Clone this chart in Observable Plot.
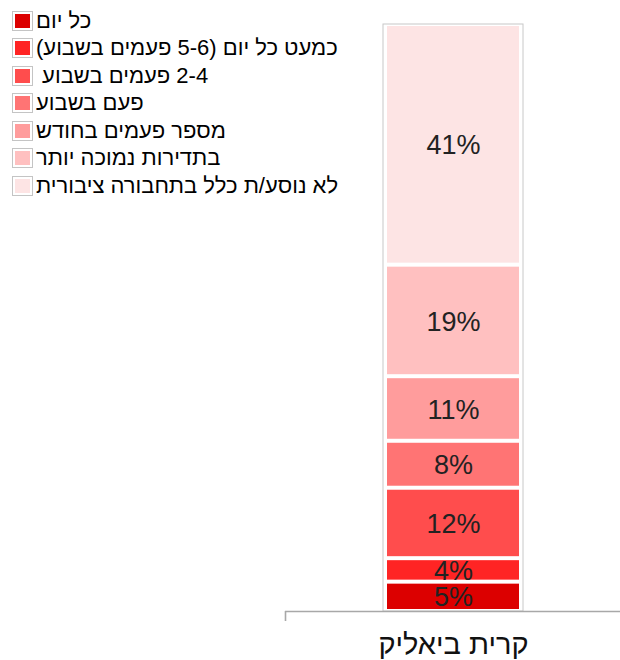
<!DOCTYPE html>
<html>
<head>
<meta charset="utf-8">
<script src="https://cdn.jsdelivr.net/npm/d3@7"></script>
<script src="https://cdn.jsdelivr.net/npm/@observablehq/plot@0.6"></script>
<style>
  body { margin: 0; background: #fff; }
  #wrap { position: relative; width: 620px; height: 660px; font-family: "Liberation Sans", Arial, sans-serif; }
  #legend { position: absolute; left: 12px; top: 7px; }
  .row { display: flex; align-items: center; height: 27.5px; direction: ltr; }
  .sw { width: 15px; height: 14px; border: 1px solid #c4c4c4; padding: 2px; background: #fff; box-sizing: content-box; flex: none; }
  .sw > div { width: 100%; height: 100%; }
  .lab { margin-left: 3px; font-size: 22px; color: #000; white-space: pre; }
</style>
</head>
<body>
<div id="wrap"><div id="legend"></div></div>
<script>
const categories = ["קרית ביאליק"];
const series = [
  "כל יום",
  "כמעט כל יום (5-6 פעמים בשבוע)",
  " 2-4 פעמים בשבוע ",
  "פעם בשבוע",
  "מספר פעמים בחודש",
  "בתדירות נמוכה יותר",
  "לא נוסע/ת כלל בתחבורה ציבורית"
];
const values = [5, 4, 12, 8, 11, 19, 41];
const colors = ["#dc0000", "#ff2424", "#ff4d4d", "#ff7474", "#ff9c9c", "#ffc0c0", "#fde4e4"];

const data = series.map((s, i) => ({category: categories[0], series: s, value: values[i]}));
const totals = categories.map(c => ({category: c, total: d3.sum(data.filter(d => d.category === c), d => d.value)}));

const font = "'Liberation Sans', Arial, sans-serif";

const chart = Plot.plot({
  width: 620,
  height: 660,
  marginLeft: 285,
  marginRight: 0,
  marginTop: 24,
  marginBottom: 49,
  style: {fontFamily: font, background: "transparent"},
  x: {domain: categories, padding: 0.41, axis: null},
  y: {domain: [0, 100], axis: null},
  color: {domain: series, range: colors},
  marks: [
    Plot.barY(totals, {x: "category", y: "total", fill: "white", stroke: "#c8c8c8", strokeWidth: 1}),
    Plot.barY(data, {x: "category", y: "value", fill: "series", insetLeft: 4, insetRight: 4, insetTop: 2, insetBottom: 2}),
    Plot.ruleY([0], {stroke: "#a8a8a8", strokeWidth: 1.6}),
    (index, scales, values, dims) => {
      const y0 = dims.height - dims.marginBottom;
      const l = document.createElementNS("http://www.w3.org/2000/svg", "line");
      l.setAttribute("x1", dims.marginLeft + 0.5);
      l.setAttribute("x2", dims.marginLeft + 0.5);
      l.setAttribute("y1", y0);
      l.setAttribute("y2", y0 + 10);
      l.setAttribute("stroke", "#a8a8a8");
      l.setAttribute("stroke-width", 1.6);
      return l;
    },
    Plot.text(data, Plot.stackY({x: "category", y: "value", z: "series", text: d => d.value + "%", fontSize: 27, fill: "#222", dy: 1})),
    Plot.text(categories, {x: d => d, y: 0, dy: 33, fontSize: 29, fill: "#111"})
  ]
});

const wrap = document.getElementById("wrap");
wrap.insertBefore(chart, wrap.firstChild);

const legend = document.getElementById("legend");
series.forEach((s, i) => {
  const row = document.createElement("div");
  row.className = "row";
  const sw = document.createElement("div");
  sw.className = "sw";
  const inner = document.createElement("div");
  inner.style.background = colors[i];
  sw.appendChild(inner);
  const lab = document.createElement("span");
  lab.className = "lab";
  lab.dir = "rtl";
  lab.textContent = s;
  row.appendChild(sw);
  row.appendChild(lab);
  legend.appendChild(row);
});
</script>
</body>
</html>
